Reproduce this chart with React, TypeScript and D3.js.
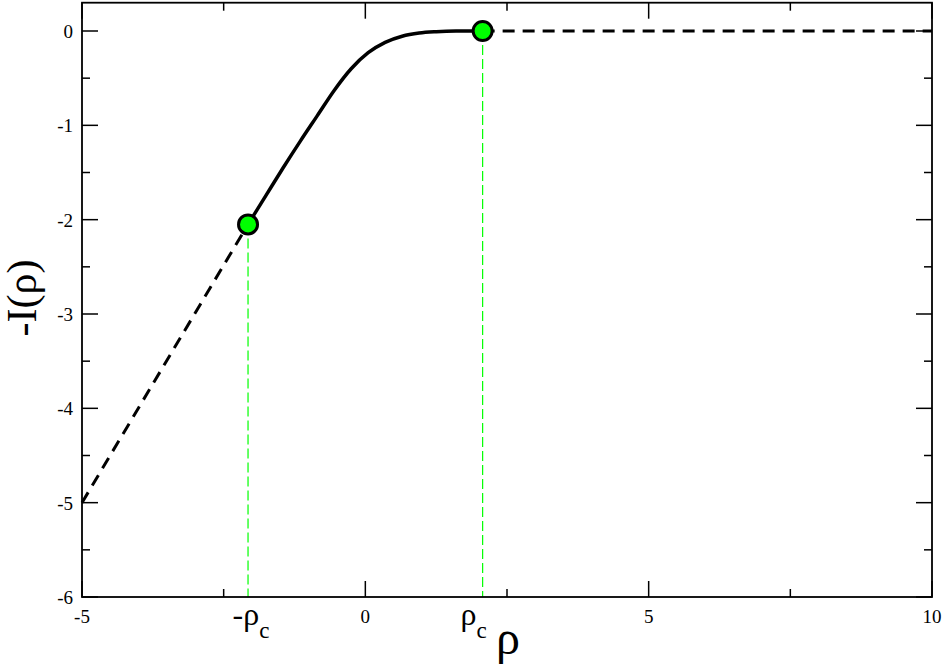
import React from "react";
import * as d3 from "d3";

// ---- data ----
const rhoC = 2.07;
const curveX = [-2.07, -1.75, -1.45, -1.15, -0.85, -0.55, -0.25, 0.05, 0.35, 0.65, 0.95, 1.25, 1.6, 2.07];
const curveY = [-2.05, -1.74, -1.45, -1.17, -0.9, -0.63, -0.4, -0.23, -0.12, -0.055, -0.022, -0.008, -0.001, 0];
const leftTailX = [-5, -2.07];
const leftTailY = [-5, -2.05];
const rightTailX = [2.07, 10];
const rightTailY = [0, 0];
const markerX = [-2.07, 2.07];
const markerY = [-2.05, 0];
const xMajorTicks = [-5, 0, 5, 10];
const xMinorTicks = [-2.5, 2.5, 7.5];
const yMajorTicks = [0, -1, -2, -3, -4, -5, -6];
const yMinorTicks = [-0.5, -1.5, -2.5, -3.5, -4.5, -5.5];

const W = 946;
const H = 668;
const M = { left: 82, right: 14, top: 2.7, bottom: 71 };

function T(props: any) {
  const { children, ...rest } = props;
  return (
    <text {...rest} fontFamily="Liberation Serif" style={{ fontFamily: '"Liberation Serif"' }}>
      {children}
    </text>
  );
}

export default function App() {
  const x = d3.scaleLinear().domain([-5, 10]).range([M.left, W - M.right]);
  const y = d3.scaleLinear().domain([-6, 0.3]).range([H - M.bottom, M.top]);
  const line = d3
    .line<[number, number]>()
    .x((d) => x(d[0]))
    .y((d) => y(d[1]));
  const smooth = d3
    .line<[number, number]>()
    .x((d) => x(d[0]))
    .y((d) => y(d[1]))
    .curve(d3.curveMonotoneX);

  const curve = curveX.map((v, i) => [v, curveY[i]] as [number, number]);
  const left = leftTailX.map((v, i) => [v, leftTailY[i]] as [number, number]);
  const right = rightTailX.map((v, i) => [v, rightTailY[i]] as [number, number]);

  const x0 = x.range()[0], x1 = x.range()[1];
  const y0 = y.range()[0], y1 = y.range()[1];
  const major = 16, minor = 8;

  return (
    <svg width={W} height={H} style={{ position: "absolute", left: 0, top: 0, background: "#fff" }}>
      {/* green guide lines */}
      {markerX.map((mx, i) => (
        <line key={"g" + i} x1={x(mx)} x2={x(mx)} y1={y(markerY[i])} y2={y0}
          stroke="#00ff00" strokeWidth={1.2} strokeDasharray="10,4" />
      ))}
      {/* ticks */}
      {xMajorTicks.map((t) => (
        <g key={"xM" + t}>
          <line x1={x(t)} x2={x(t)} y1={y0} y2={y0 - major} stroke="#000" strokeWidth={1.5} />
          <line x1={x(t)} x2={x(t)} y1={y1} y2={y1 + major} stroke="#000" strokeWidth={1.5} />
          <T x={x(t)} y={y0 + 26} fontSize={19} textAnchor="middle">{String(t)}</T>
        </g>
      ))}
      {xMinorTicks.map((t) => (
        <g key={"xm" + t}>
          <line x1={x(t)} x2={x(t)} y1={y0} y2={y0 - minor} stroke="#000" strokeWidth={1.5} />
          <line x1={x(t)} x2={x(t)} y1={y1} y2={y1 + minor} stroke="#000" strokeWidth={1.5} />
        </g>
      ))}
      {yMajorTicks.map((t) => (
        <g key={"yM" + t}>
          <line x1={x0} x2={x0 + major} y1={y(t)} y2={y(t)} stroke="#000" strokeWidth={1.5} />
          <line x1={x1} x2={x1 - major} y1={y(t)} y2={y(t)} stroke="#000" strokeWidth={1.5} />
          <T x={x0 - 9} y={y(t) + 7} fontSize={19} textAnchor="end">{String(t)}</T>
        </g>
      ))}
      {yMinorTicks.map((t) => (
        <g key={"ym" + t}>
          <line x1={x0} x2={x0 + minor} y1={y(t)} y2={y(t)} stroke="#000" strokeWidth={1.5} />
          <line x1={x1} x2={x1 - minor} y1={y(t)} y2={y(t)} stroke="#000" strokeWidth={1.5} />
        </g>
      ))}
      {/* frame */}
      <rect x={x0} y={y1} width={x1 - x0} height={y0 - y1} fill="none" stroke="#000" strokeWidth={1.8} />
      {/* curves */}
      <path d={line(left) || ""} fill="none" stroke="#000" strokeWidth={3} strokeDasharray="12,8" />
      <path d={line(right) || ""} fill="none" stroke="#000" strokeWidth={3} strokeDasharray="12,8" />
      <path d={smooth(curve) || ""} fill="none" stroke="#000" strokeWidth={3.5} />
      {markerX.map((mx, i) => (
        <circle key={"c" + i} cx={x(mx)} cy={y(markerY[i])} r={9.5} fill="#00ff00" stroke="#000" strokeWidth={3} />
      ))}
      {/* rho_c labels */}
      <T x={x(-rhoC) + 3} y={y0 + 28} fontSize={32} textAnchor="middle">
        -ρ<tspan fontSize={23} dy={13}>c</tspan>
      </T>
      <T x={x(rhoC) - 9} y={y0 + 28} fontSize={32} textAnchor="middle">
        ρ<tspan fontSize={23} dy={13}>c</tspan>
      </T>
      {/* axis labels */}
      <T x={508} y={654} fontSize={48} textAnchor="middle">ρ</T>
      <T transform={`translate(36, 298) rotate(-90)`} fontSize={42} textAnchor="middle">-I(ρ)</T>
    </svg>
  );
}
